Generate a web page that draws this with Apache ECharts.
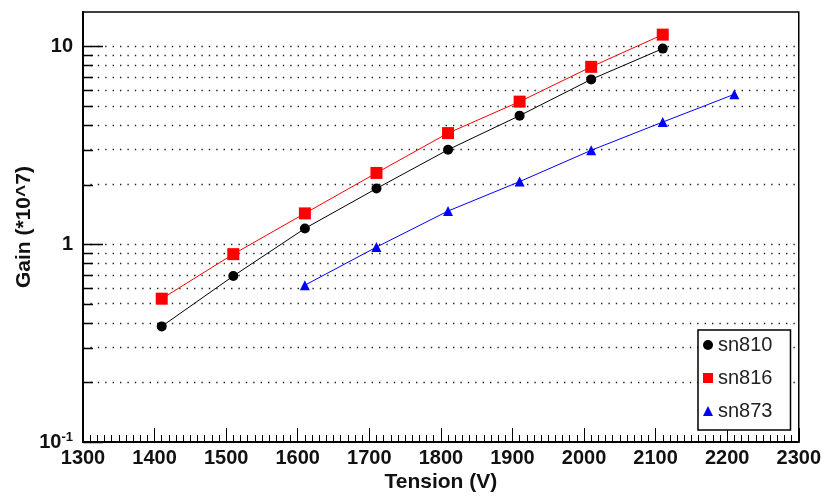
<!DOCTYPE html>
<html>
<head>
<meta charset="utf-8">
<script src="https://cdn.jsdelivr.net/npm/echarts@6/dist/echarts.min.js"></script>
<style>
html,body{margin:0;padding:0;background:#fff;}
#c{width:824px;height:498px;}
</style>
</head>
<body>
<div id="c"></div>
<script>
// ---- data ----
var tension810 = [1410, 1510, 1610, 1710, 1810, 1910, 2010, 2110];
var gain810 = [0.384, 0.69, 1.20, 1.91, 3.00, 4.46, 6.80, 9.73];
var tension816 = [1410, 1510, 1610, 1710, 1810, 1910, 2010, 2110];
var gain816 = [0.53, 0.89, 1.43, 2.29, 3.64, 5.25, 7.87, 11.45];
var tension873 = [1610, 1710, 1810, 1910, 2010, 2110, 2210];
var gain873 = [0.62, 0.966, 1.47, 2.07, 2.98, 4.14, 5.72];
var seriesNames = ['sn810', 'sn816', 'sn873'];
var xTicks = [1300, 1400, 1500, 1600, 1700, 1800, 1900, 2000, 2100, 2200, 2300];
var yMajor = [0.1, 1, 10];
var yMinor = [0.2, 0.3, 0.4, 0.5, 0.6, 0.7, 0.8, 0.9, 2, 3, 4, 5, 6, 7, 8, 9];
var gridValues = [0.2, 0.3, 0.4, 0.5, 0.6, 0.7, 0.8, 0.9, 1, 2, 3, 4, 5, 6, 7, 8, 9, 10];

function pairs(xs, ys) { return xs.map(function (x, i) { return [x, ys[i]]; }); }

var FONT = '"Liberation Sans", Arial, Helvetica, sans-serif';
var chart = echarts.init(document.getElementById('c'), null, {renderer: 'canvas'});

var option = {
  animation: false,
  backgroundColor: '#fff',
  textStyle: {fontFamily: FONT},
  grid: {left: 83, top: 12, right: 25, bottom: 55, show: true, borderColor: '#000', borderWidth: 1.5, backgroundColor: 'transparent'},
  xAxis: {
    type: 'value', min: xTicks[0], max: xTicks[xTicks.length - 1], interval: 100,
    name: 'Tension (V)', nameLocation: 'middle', nameGap: 30, nameMoveOverlap: false,
    nameTextStyle: {fontFamily: FONT, fontWeight: 'bold', fontSize: 21, color: '#111'},
    axisLine: {show: true, lineStyle: {color: '#000', width: 2}},
    axisTick: {show: true, inside: true, length: 14, lineStyle: {color: '#000', width: 1}},
    minorTick: {show: true, splitNumber: 10, length: 7, lineStyle: {color: '#000', width: 1}},
    axisLabel: {fontFamily: FONT, fontWeight: 'bold', fontSize: 20, color: '#111', margin: 6,
      formatter: function (v) { return String(v); }},
    splitLine: {show: false}
  },
  yAxis: {
    type: 'log', logBase: 10, min: 0.1, max: 14.9,
    name: 'Gain (*10^7)', nameLocation: 'middle', nameGap: 48, nameRotate: 90, nameMoveOverlap: false,
    nameTextStyle: {fontFamily: FONT, fontWeight: 'bold', fontSize: 21, color: '#111'},
    axisLine: {show: true, lineStyle: {color: '#000', width: 2}},
    axisTick: {show: false},
    splitLine: {show: false},
    axisLabel: {
      margin: 10, color: '#111',
      formatter: function (v) {
        if (Math.abs(v - 0.1) < 1e-9) return '{b|10}{s|-1}';
        if (Math.abs(v - 1) < 1e-9) return '{b|1}';
        if (Math.abs(v - 10) < 1e-9) return '{b|10}';
        return '';
      },
      rich: {
        b: {fontFamily: FONT, fontWeight: 'bold', fontSize: 20, color: '#111'},
        s: {fontFamily: FONT, fontWeight: 'bold', fontSize: 13, color: '#111', padding: [0, 0, 10, 0]}
      }
    }
  },
  legend: {
    orient: 'vertical', left: 698, top: 330,
    padding: [4, 18, 8, 5], itemGap: 11,
    itemWidth: 10, itemHeight: 10,
    backgroundColor: '#fff', borderColor: '#000', borderWidth: 1.5,
    textStyle: {fontFamily: FONT, fontSize: 20, color: '#222', lineHeight: 22},
    data: [
      {name: seriesNames[0], icon: 'circle'},
      {name: seriesNames[1], icon: 'rect'},
      {name: seriesNames[2], icon: 'triangle'}
    ]
  },
  series: [
    {
      name: seriesNames[0], type: 'line', data: pairs(tension810, gain810),
      symbol: 'circle', symbolSize: 10, z: 3,
      itemStyle: {color: '#000'}, lineStyle: {color: '#000', width: 1},
      markLine: {
        silent: true, symbol: ['none', 'none'], label: {show: false}, z: 1,
        lineStyle: {color: '#222', width: 1.4, type: [1.4, 6]},
        emphasis: {disabled: true},
        data: gridValues.map(function (v) { return {yAxis: v}; })
      }
    },
    {
      name: seriesNames[1], type: 'line', data: pairs(tension816, gain816),
      symbol: 'rect', symbolSize: 12, z: 4,
      itemStyle: {color: '#ff0000'}, lineStyle: {color: '#ff0000', width: 1}
    },
    {
      name: seriesNames[2], type: 'line', data: pairs(tension873, gain873),
      symbol: 'triangle', symbolSize: 10, z: 5,
      itemStyle: {color: '#0000ff'}, lineStyle: {color: '#0000ff', width: 1}
    }
  ]
};
chart.setOption(option);

// y-axis ticks (major and minor, log-spaced) placed through the axis scale
var x0 = chart.convertToPixel({xAxisIndex: 0}, xTicks[0]);
var els = [];
yMajor.concat(yMinor).forEach(function (v) {
  var y = Math.round(chart.convertToPixel({yAxisIndex: 0}, v)) + 0.5;
  var len = yMajor.indexOf(v) >= 0 ? 20 : 10;
  els.push({type: 'line', silent: true, z: 10,
    shape: {x1: x0, y1: y, x2: x0 + len, y2: y},
    style: {stroke: '#000', lineWidth: 1.5}});
});
chart.setOption({graphic: els});
</script>
</body>
</html>
